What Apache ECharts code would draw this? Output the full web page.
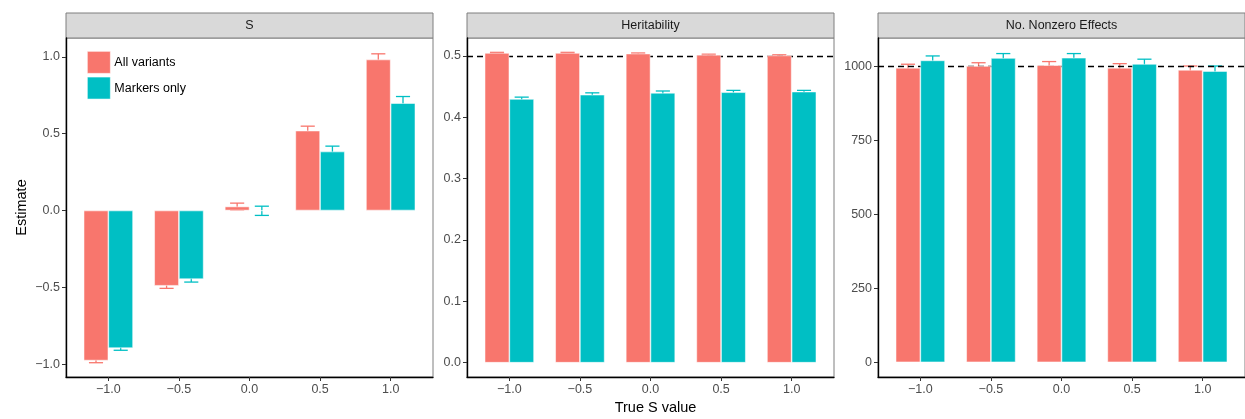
<!DOCTYPE html>
<html>
<head>
<meta charset="utf-8">
<script src="https://cdn.jsdelivr.net/npm/echarts@6/dist/echarts.min.js"></script>
<style>
html,body{margin:0;padding:0;background:#fff;}
#chart{width:1245px;height:419px;}
</style>
</head>
<body>
<div id="chart"></div>
<script>
// ---- Data ----
const categories = ['\u22121.0', '\u22120.5', '0.0', '0.5', '1.0'];
const seriesNames = ['All variants', 'Markers only'];
const panelTitles = ['S', 'Heritability', 'No. Nonzero Effects'];

const sAll = [-0.977, -0.490, 0.026, 0.520, 0.983];
const sAllSE = [0.014, 0.017, 0.022, 0.029, 0.037];
const sMark = [-0.896, -0.447, -0.002, 0.384, 0.699];
const sMarkSE = [0.014, 0.019, 0.030, 0.035, 0.043];

const h2All = [0.505, 0.505, 0.504, 0.502, 0.501];
const h2AllSE = [0.001, 0.001, 0.001, 0.001, 0.001];
const h2Mark = [0.430, 0.437, 0.440, 0.441, 0.442];
const h2MarkSE = [0.003, 0.003, 0.003, 0.003, 0.002];

const nzAll = [995, 1001, 1004, 995, 988];
const nzAllSE = [12, 11, 12, 14, 13];
const nzMark = [1020, 1028, 1029, 1008, 984];
const nzMarkSE = [15, 15, 14, 16, 17];

const yTicks1 = [-1, -0.5, 0, 0.5, 1];
const yTickLabels1 = ['\u22121.0', '\u22120.5', '0.0', '0.5', '1.0'];
const yTicks2 = [0, 0.1, 0.2, 0.3, 0.4, 0.5];
const yTickLabels2 = ['0.0', '0.1', '0.2', '0.3', '0.4', '0.5'];
const yTicks3 = [0, 250, 500, 750, 1000];
const yTickLabels3 = ['0', '250', '500', '750', '1000'];

const refLines = [null, 0.5, 1000];

// ---- Layout / style ----
const colors = ['#F8766D', '#00BFC4'];
const panelLeft = [66, 467, 878];
const panelW = 367, panelTop = 38, panelH = 339;
const yRanges = [[-1.084, 1.123], [-0.0233, 0.5294], [-49.7, 1095.6]];
const xMin = 0.4, xMax = 5.6;
const dodge = 0.35;           // bar width in category units
const barPx = dodge * panelW / (xMax - xMin);
const FONT = "'Liberation Sans', Arial, Helvetica, sans-serif";
const TICK_FONT = 12.5;

const panels = [
  { means: [sAll, sMark], ses: [sAllSE, sMarkSE], ticks: yTicks1, labels: yTickLabels1 },
  { means: [h2All, h2Mark], ses: [h2AllSE, h2MarkSE], ticks: yTicks2, labels: yTickLabels2 },
  { means: [nzAll, nzMark], ses: [nzAllSE, nzMarkSE], ticks: yTicks3, labels: yTickLabels3 }
];
const xPos = categories.map((c, i) => i + 1);

function nearestLabel(v, ticks, labels) {
  let best = 0, d = Infinity;
  ticks.forEach((t, i) => { const dd = Math.abs(t - v); if (dd < d) { d = dd; best = i; } });
  return labels[best];
}

const grid = [], xAxis = [], yAxis = [], series = [], graphic = [];

panels.forEach((p, pi) => {
  grid.push({
    left: panelLeft[pi], top: panelTop, width: panelW, height: panelH,
    show: true, borderColor: '#7F7F7F', borderWidth: 1, backgroundColor: '#fff'
  });
  xAxis.push({
    gridIndex: pi, type: 'value', min: xMin, max: xMax,
    splitLine: { show: false },
    axisLine: { show: true, onZero: false, lineStyle: { color: '#000', width: 1.4 } },
    axisTick: { show: true, customValues: xPos, length: 4, lineStyle: { color: '#333', width: 1 } },
    axisLabel: {
      customValues: xPos, margin: 6, color: '#4D4D4D', fontSize: TICK_FONT, fontFamily: FONT,
      formatter: v => categories[Math.round(v) - 1]
    }
  });
  yAxis.push({
    gridIndex: pi, type: 'value', min: yRanges[pi][0], max: yRanges[pi][1],
    splitLine: { show: false },
    axisLine: { show: true, onZero: false, lineStyle: { color: '#000', width: 1.4 } },
    axisTick: { show: true, customValues: p.ticks, length: 4, lineStyle: { color: '#333', width: 1 } },
    axisLabel: {
      customValues: p.ticks, margin: 6, color: '#4D4D4D', fontSize: TICK_FONT, fontFamily: FONT,
      formatter: v => nearestLabel(v, p.ticks, p.labels)
    },
    name: pi === 0 ? 'Estimate' : '',
    nameLocation: 'middle', nameGap: 37, nameRotate: 90,
    nameTextStyle: { color: '#000', fontSize: 14.5, fontFamily: FONT }
  });

  [0, 1].forEach(si => {
    const offset = si === 0 ? -dodge / 2 : dodge / 2;
    // error bars (drawn beneath the bars)
    series.push({
      type: 'custom', xAxisIndex: pi, yAxisIndex: pi, silent: true, z: 1,
      data: xPos.map((x, i) => [x, p.means[si][i], p.ses[si][i]]),
      encode: { x: 0, y: 1 },
      renderItem: (params, api) => {
        const x = api.value(0) + offset;
        const m = api.value(1), se = api.value(2);
        const top = api.coord([x, m + se]);
        const bot = api.coord([x, m - se]);
        const half = api.size([0.1, 0])[0];
        const st = { stroke: colors[si], lineWidth: 1.3 };
        return {
          type: 'group', children: [
            { type: 'line', shape: { x1: top[0], y1: top[1], x2: bot[0], y2: bot[1] }, style: st },
            { type: 'line', shape: { x1: top[0] - half, y1: top[1], x2: top[0] + half, y2: top[1] }, style: st },
            { type: 'line', shape: { x1: bot[0] - half, y1: bot[1], x2: bot[0] + half, y2: bot[1] }, style: st }
          ]
        };
      }
    });
    const bar = {
      type: 'bar', name: seriesNames[si], xAxisIndex: pi, yAxisIndex: pi, silent: true,
      data: xPos.map((x, i) => [x, p.means[si][i]]),
      barWidth: barPx, barGap: '0%', z: 3,
      itemStyle: { color: colors[si], borderColor: 'rgba(255,255,255,0.75)', borderWidth: 0.7 }
    };
    if (si === 0 && refLines[pi] !== null) {
      bar.markLine = {
        silent: true, symbol: 'none', z: 2, animation: false,
        label: { show: false },
        lineStyle: { color: '#000', type: [6, 4], width: 1.3 },
        data: [{ yAxis: refLines[pi] }]
      };
    }
    series.push(bar);
  });

  // facet strip
  graphic.push({
    type: 'rect', silent: true,
    shape: { x: panelLeft[pi], y: 13, width: panelW, height: 25 },
    style: { fill: '#D9D9D9', stroke: '#7F7F7F', lineWidth: 1 }
  });
  graphic.push({
    type: 'text', silent: true,
    x: panelLeft[pi] + panelW / 2, y: 26,
    style: {
      text: panelTitles[pi], fill: '#1A1A1A', fontSize: 12.5, fontFamily: FONT,
      align: 'center', verticalAlign: 'middle'
    }
  });
});

graphic.push({
  type: 'text', silent: true, x: 655.5, y: 408,
  style: {
    text: 'True S value', fill: '#000', fontSize: 14.5, fontFamily: FONT,
    align: 'center', verticalAlign: 'middle'
  }
});

const chart = echarts.init(document.getElementById('chart'), null, { renderer: 'canvas' });
chart.setOption({
  backgroundColor: '#fff',
  animation: false,
  textStyle: { fontFamily: FONT },
  legend: {
    data: seriesNames, orient: 'vertical', left: 87, top: 51,
    itemWidth: 23, itemHeight: 22, itemGap: 3, icon: 'rect',
    textStyle: { color: '#000', fontSize: 12.5, fontFamily: FONT, padding: [0, 0, 0, -1] },
    padding: 0, selectedMode: false,
    itemStyle: { borderColor: 'rgba(255,255,255,0.75)', borderWidth: 0.7 }
  },
  grid, xAxis, yAxis, series, graphic
});
</script>
</body>
</html>
